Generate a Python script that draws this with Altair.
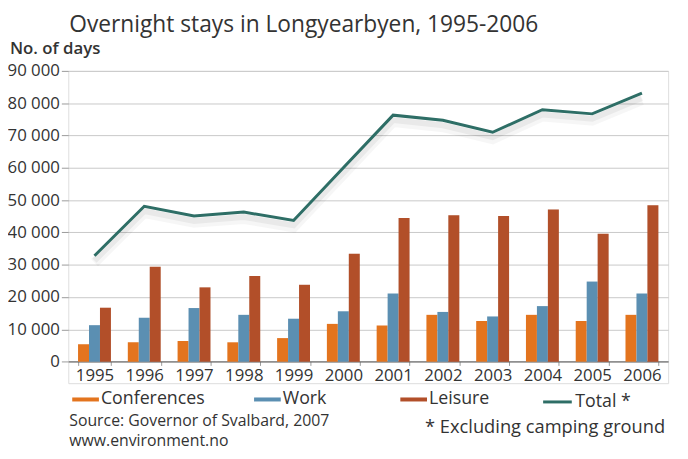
import altair as alt
import pandas as pd

# ---- data ----
years = ["1995", "1996", "1997", "1998", "1999", "2000",
         "2001", "2002", "2003", "2004", "2005", "2006"]
conferences = [5400, 6000, 6400, 6000, 7300, 11700, 11200, 14500, 12600, 14500, 12600, 14500]
work = [11300, 13600, 16600, 14500, 13300, 15600, 21100, 15400, 14000, 17200, 24800, 21100]
leisure = [16700, 29400, 23000, 26500, 23800, 33400, 44500, 45300, 45100, 47100, 39600, 48400]
total = [32800, 48100, 45100, 46300, 43700, 60000, 76300, 74700, 71000, 78000, 76700, 83100]

series_names = ["Conferences", "Work", "Leisure"]
series_values = [conferences, work, leisure]
series_colors = ["#E3741E", "#5B8FB2", "#B24F29"]
total_name = "Total *"
total_color = "#2E6E66"
y_ticks = [0, 10000, 20000, 30000, 40000, 50000, 60000, 70000, 80000, 90000]

title_text = "Overnight stays in Longyearbyen, 1995-2006"
y_title = "No. of days"
source_text = "Source: Governor of Svalbard, 2007"
web_text = "www.environment.no"
footnote_text = "* Excluding camping ground"

FONT = "Open Sans"
TEXT = "#333333"

x_scale = alt.Scale(domain=years, paddingInner=0.339, paddingOuter=0.196)
y_scale = alt.Scale(domain=[-6650, 90000], nice=False, zero=False)
off_scale = alt.Scale(domain=series_names, paddingInner=0, paddingOuter=0)

x_axis = alt.Axis(title=None, orient="bottom", offset=-22, labelAngle=0,
                  labelFontSize=17, labelFont=FONT, labelColor=TEXT,
                  labelPadding=2, domainColor="#555555", tickColor="#999999",
                  tickSize=4, tickBand="extent", grid=False)
y_axis = alt.Axis(title=None, values=y_ticks,
                  labelExpr="replace(format(datum.value, ','), ',', ' ')",
                  labelFontSize=17, labelFont=FONT, labelColor=TEXT,
                  labelPadding=2, domain=False, tickColor="#999999", tickSize=7,
                  grid=True, gridColor="#c8c8c8")

legend_x = [4, 188, 336]
legend_y = 319
rect_symbol = "M-1,-0.15H1V0.15H-1Z"

tot_df = pd.DataFrame({"year": years, "value": total, "series": total_name})
leis_df = pd.DataFrame({"year": years, "value": leisure, "series": "Leisure"})

layers = []

# soft shadows (decorative)
layers.append(
    alt.Chart(leis_df).mark_bar(color="#000000", opacity=0.07, xOffset=4).encode(
        x=alt.X("year:N", scale=x_scale, axis=x_axis),
        xOffset=alt.XOffset("series:N", scale=off_scale),
        y=alt.Y("value:Q", scale=y_scale, axis=y_axis),
        y2=alt.datum(0),
    )
)
for w, op, dy in [(10, 0.035, 7), (6, 0.05, 5)]:
    layers.append(
        alt.Chart(tot_df).mark_line(color="#000000", strokeWidth=w, opacity=op, yOffset=dy).encode(
            x=alt.X("year:N", scale=x_scale, axis=x_axis),
            y=alt.Y("value:Q", scale=y_scale, axis=y_axis),
        )
    )

for name, vals, col, lx in zip(series_names, series_values, series_colors, legend_x):
    df = pd.DataFrame({"year": years, "value": vals, "series": name})
    layers.append(
        alt.Chart(df).mark_bar().encode(
            x=alt.X("year:N", scale=x_scale, axis=x_axis),
            xOffset=alt.XOffset("series:N", scale=off_scale),
            y=alt.Y("value:Q", scale=y_scale, axis=y_axis),
            y2=alt.datum(0),
            color=alt.Color("series:N",
                            scale=alt.Scale(domain=[name], range=[col]),
                            legend=alt.Legend(orient="none", legendX=lx, legendY=legend_y,
                                              title=None, symbolType=rect_symbol,
                                              symbolSize=729, symbolStrokeWidth=0,
                                              labelFontSize=18, labelFont=FONT,
                                              labelColor=TEXT, labelOffset=2, padding=0)),
        )
    )

layers.append(
    alt.Chart(tot_df).mark_line(strokeWidth=3).encode(
        x=alt.X("year:N", scale=x_scale, axis=x_axis),
        y=alt.Y("value:Q", scale=y_scale, axis=y_axis),
        color=alt.Color("series:N",
                        scale=alt.Scale(domain=[total_name], range=[total_color]),
                        legend=alt.Legend(orient="none", legendX=479, legendY=legend_y,
                                          title=None, symbolType="stroke",
                                          symbolSize=841, symbolStrokeWidth=3,
                                          labelFontSize=18, labelFont=FONT,
                                          labelColor=TEXT, labelOffset=2, padding=0)),
    )
)


def label(text, x, y, size, weight="normal", align="left"):
    return alt.Chart(pd.DataFrame({"t": [text]})).mark_text(
        align=align, baseline="alphabetic", font=FONT, fontSize=size,
        fontWeight=weight, color=TEXT
    ).encode(x=alt.value(x), y=alt.value(y), text="t:N")


layers += [
    label(title_text, 1, -39, 23),
    label(y_title, -59, -17, 17, weight=600),
    label(source_text, 1, 359, 16),
    label(web_text, 1, 380, 16),
    label(footnote_text, 361, 366, 18.5),
]

chart = alt.layer(*layers).resolve_scale(color="independent").properties(
    width=607, height=316,
    padding={"left": 61, "top": 61, "right": 12, "bottom": 66},
    autosize=alt.AutoSizeParams(type="none"),
).configure_view(
    stroke="#bdbdbd", strokeWidth=1, cornerRadius=14
).configure(background="white")

chart.save("out.html", embed_options={"renderer": "svg", "actions": False})
